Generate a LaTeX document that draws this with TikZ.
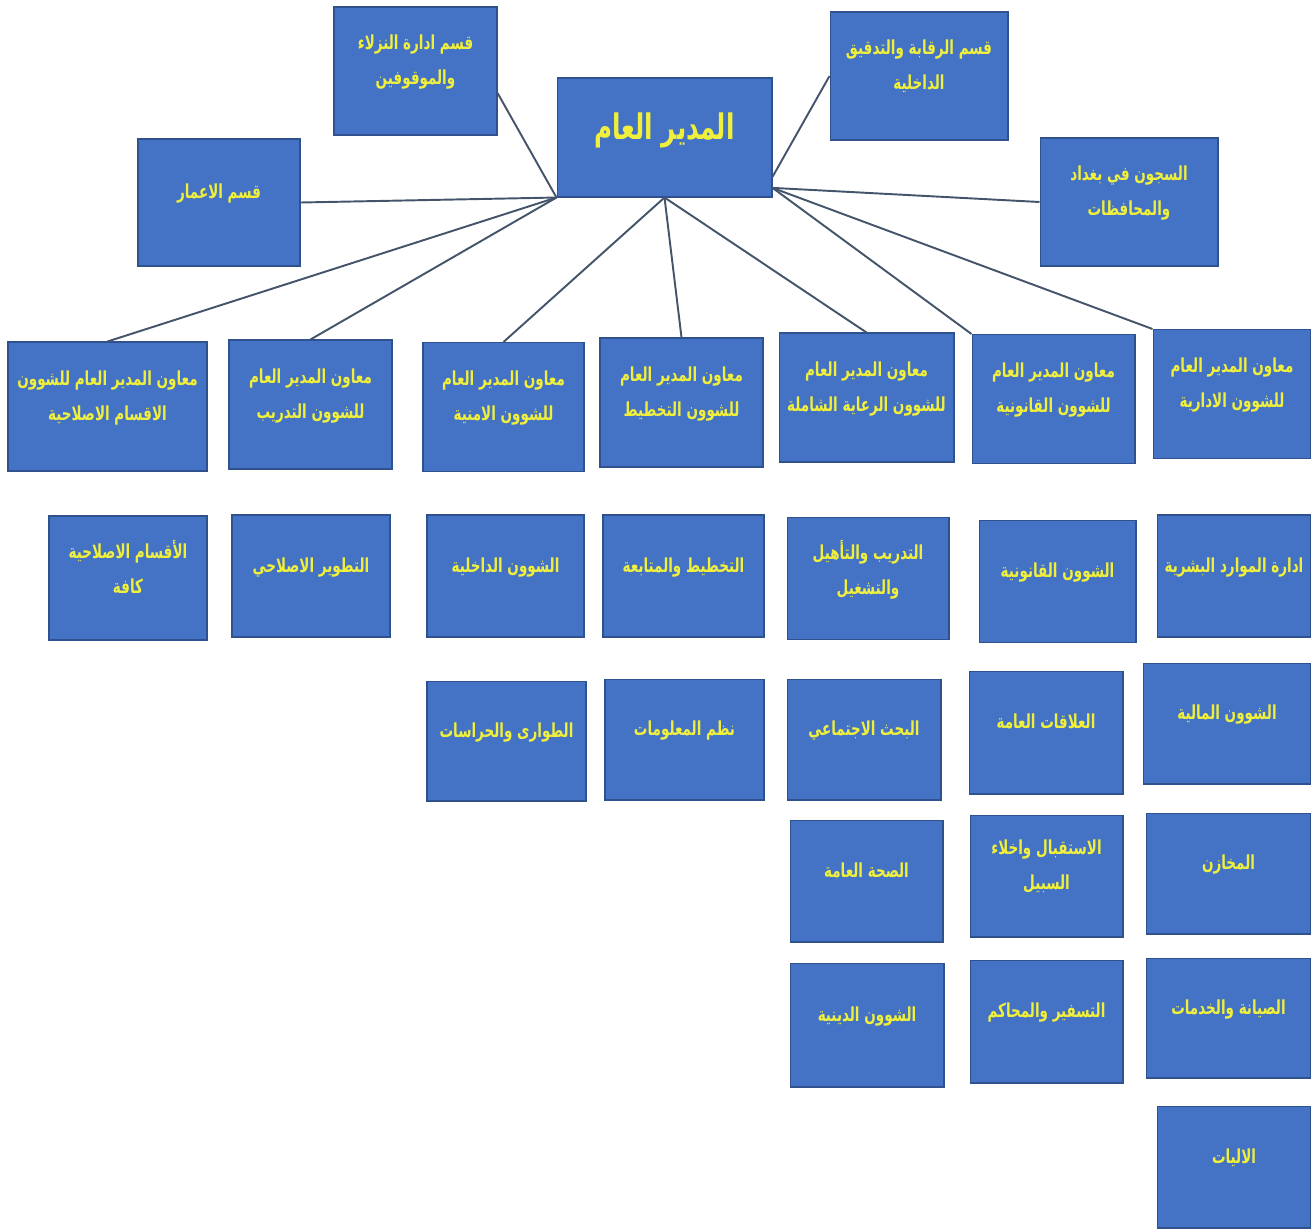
\documentclass[tikz,border=0pt]{standalone}
\usepackage{fontspec}
\newfontfamily\arabicfont[Script=Arabic,FakeStretch=0.7]{DejaVu Sans}
\TeXXeTstate=1
\newcommand{\artext}[1]{\beginR #1\endR}
\definecolor{boxblue}{RGB}{68,114,196}
\definecolor{boxedge}{RGB}{47,82,143}
\definecolor{labelyellow}{RGB}{240,240,60}
\definecolor{linkgray}{RGB}{68,84,106}

\begin{document}
\begin{tikzpicture}
    %defining some styles
    [
        x=0.02cm, y=-0.02cm,
        unit/.style={rectangle, draw=boxedge, fill=boxblue, line width=0.6pt, minimum width=3.16cm, minimum height=2.44cm, align=center, text=labelyellow, font=\arabicfont\bfseries\fontsize{11}{20}\selectfont, text depth=0.45cm},
        aide/.style={unit, minimum width=3.26cm, minimum height=2.58cm},
        dept/.style={unit, minimum width=3.26cm, minimum height=2.56cm},
        head/.style={unit, minimum width=4.3cm, minimum height=2.38cm, font=\arabicfont\bfseries\fontsize{20}{24}\selectfont},
        link/.style={draw=linkgray, line width=1.1pt},
    ]
    \useasboundingbox (0,0) rectangle (1311,1228);

    % top
    \node (dg) at (664.5,137.5) [head] {\artext{المدير العام}};
    \node (nz) at (415.5,71) [dept] {\artext{قسم ادارة النزلاء}\\\artext{والموقوفين}};
    \node (am) at (219,202.5) [dept, minimum width=3.24cm, minimum height=2.54cm] {\artext{قسم الاعمار}};
    \node (rq) at (919,76) [dept, minimum width=3.56cm] {\artext{قسم الرقابة والتدقيق}\\\artext{الداخلية}};
    \node (sj) at (1129,202) [dept, minimum width=3.56cm] {\artext{السجون في بغداد}\\\artext{والمحافظات}};

    % assistants
    \node (a1) at (107.5,406.5) [aide, minimum width=3.98cm] {\artext{معاون المدير العام للشوون}\\\artext{الاقسام الاصلاحية}};
    \node (a2) at (310.5,404.5) [aide] {\artext{معاون المدير العام}\\\artext{للشوون التدريب}};
    \node (a3) at (503.5,407) [aide, minimum width=3.22cm] {\artext{معاون المدير العام}\\\artext{للشوون الامنية}};
    \node (a4) at (681.5,402.5) [aide] {\artext{معاون المدير العام}\\\artext{للشوون التخطيط}};
    \node (a5) at (866.5,397.5) [aide, minimum width=3.5cm] {\artext{معاون المدير العام}\\\artext{للشوون الرعاية الشاملة}};
    \node (a6) at (1053.5,399) [aide] {\artext{معاون المدير العام}\\\artext{للشوون القانونية}};
    \node (a7) at (1232,394) [aide, minimum width=3.16cm] {\artext{معاون المدير العام}\\\artext{للشوون الادارية}};

    % sections
    \node (b1) at (128,578) [unit, minimum height=2.48cm] {\artext{الأقسام الاصلاحية}\\\artext{كافة}};
    \node (b2) at (311,576) [unit] {\artext{التطوير الاصلاحي}};
    \node (b3) at (505.5,576) [unit, minimum width=3.14cm] {\artext{الشوون الداخلية}};
    \node (b4) at (683.5,576) [unit, minimum width=3.22cm] {\artext{التخطيط والمتابعة}};
    \node (b5) at (868,578.5) [unit, minimum width=3.24cm] {\artext{التدريب والتأهيل}\\\artext{والتشغيل}};
    \node (b6) at (1057.5,581.5) [unit, minimum width=3.14cm] {\artext{الشوون القانونية}};
    \node (b7) at (1234,576) [unit, minimum width=3.08cm] {\artext{ادارة الموارد البشرية}};

    \node (c3) at (506.5,741) [unit, minimum width=3.18cm, minimum height=2.4cm] {\artext{الطوارى والحراسات}};
    \node (c4) at (684.5,739.5) [unit, minimum width=3.18cm, minimum height=2.42cm] {\artext{نظم المعلومات}};
    \node (c5) at (864,739.5) [unit, minimum width=3.08cm, minimum height=2.42cm] {\artext{البحث الاجتماعي}};
    \node (c6) at (1046,732.5) [unit, minimum width=3.08cm, minimum height=2.46cm] {\artext{العلاقات العامة}};
    \node (c7) at (1227,723.5) [unit, minimum width=3.36cm, minimum height=2.42cm] {\artext{الشوون المالية}};

    \node (d5) at (866.5,881) [unit, minimum width=3.06cm] {\artext{الصحة العامة}};
    \node (d6) at (1046.5,876) [unit, minimum width=3.06cm] {\artext{الاستقبال واخلاء}\\\artext{السبيل}};
    \node (d7) at (1228.5,873.5) [unit, minimum width=3.3cm, minimum height=2.42cm] {\artext{المخازن}};

    \node (e5) at (867,1025) [unit, minimum width=3.08cm, minimum height=2.48cm] {\artext{الشوون الدينية}};
    \node (e6) at (1046.5,1021.5) [unit, minimum width=3.06cm, minimum height=2.46cm] {\artext{التسفير والمحاكم}};
    \node (e7) at (1228.5,1018) [unit, minimum width=3.3cm, minimum height=2.4cm] {\artext{الصيانة والخدمات}};

    \node (f7) at (1234,1167) [unit, minimum width=3.08cm] {\artext{الاليات}};

    % connectors
    \draw [link] (dg.south west) -- (am.east);
    \draw [link] (dg.south west) -- (nz.-15);
    \draw [link] (dg.south west) -- (a1.north);
    \draw [link] (dg.south west) -- (a2.north);
    \draw [link] (dg.south) -- (a3.north);
    \draw [link] (dg.south) -- (a4.north);
    \draw [link] (dg.south) -- (a5.north);
    \draw [link] (dg.-20) -- (rq.west);
    \draw [link] (dg.-25) -- (sj.west);
    \draw [link] (dg.-25) -- (a6.north west);
    \draw [link] (dg.-25) -- (a7.north west);
\end{tikzpicture}
\end{document}
